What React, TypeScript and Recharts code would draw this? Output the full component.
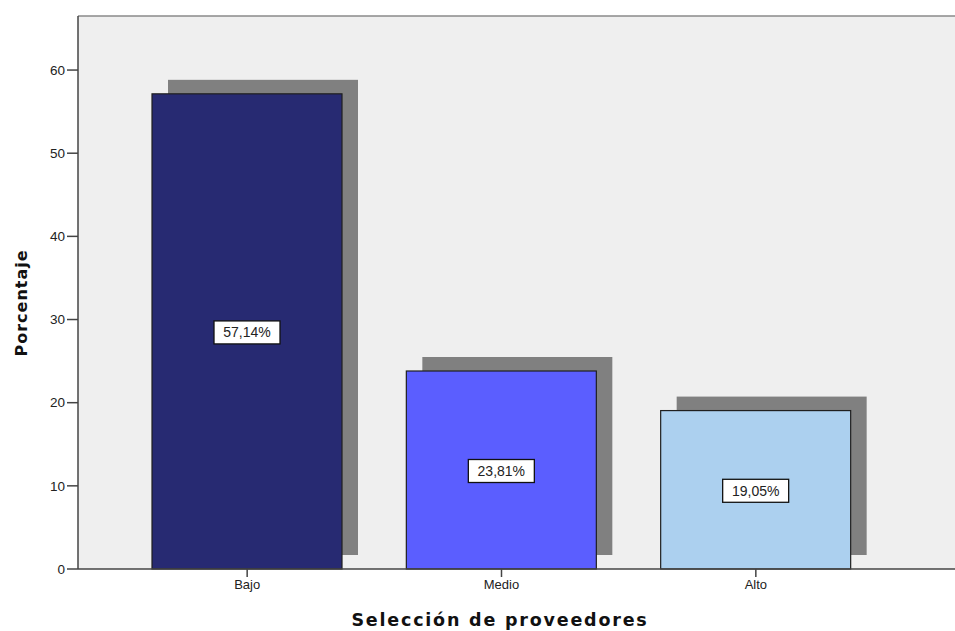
import React from 'react';
import {
  BarChart,
  Bar,
  XAxis,
  YAxis,
  CartesianGrid,
  Cell,
  LabelList,
  ReferenceLine,
} from 'recharts';

const categories = ['Bajo', 'Medio', 'Alto'];
const percentages = [57.14, 23.81, 19.05];
const barColors = ['#272a72', '#5b5eff', '#acd0ef'];
const yTicks = [0, 10, 20, 30, 40, 50, 60];

const data = categories.map((name, i) => ({ name, value: percentages[i] }));

const SHADOW_DX = 16;
const SHADOW_DY = 14;
const FONT = 'Arial, "Liberation Sans", sans-serif';
const TITLE_FONT = '"DejaVu Sans", Verdana, sans-serif';

// bar with a flat drop shadow behind it, offset up and to the right
const ShadowBar = (props: any) => {
  const { x, y, width, height, fill } = props;
  return (
    <g>
      <rect x={x + SHADOW_DX} y={y - SHADOW_DY} width={width} height={height} fill="#808080" />
      <rect x={x} y={y} width={width} height={height} fill={fill} stroke="#1f1f1f" strokeWidth={1.2} />
    </g>
  );
};

const formatPct = (v: number) => v.toFixed(2).replace('.', ',') + '%';

const BoxLabel = (props: any) => {
  const { x, y, width, height, value } = props;
  const cx = x + width / 2;
  const cy = y + height / 2 + 1;
  const w = 66;
  const h = 23;
  return (
    <g>
      <rect x={cx - w / 2} y={cy - h / 2} width={w} height={h} fill="#ffffff" stroke="#111" strokeWidth={1.3} />
      <text x={cx} y={cy + 5} textAnchor="middle" fontSize={14} fontFamily={FONT} fill="#222">
        {formatPct(value)}
      </text>
    </g>
  );
};

export default function App() {
  return (
    <div style={{ position: 'relative', width: 955, height: 631, background: '#fff' }}>
      <style>{'body{margin:0}'}</style>
      <BarChart
        width={955}
        height={631}
        data={data}
        margin={{ top: 16, right: 0, left: 0, bottom: 31 }}
        barCategoryGap={32}
      >
        <CartesianGrid fill="#efefef" horizontal={false} vertical={false} stroke="none" />
        <XAxis
          dataKey="name"
          height={31}
          padding={{ left: 42, right: 72 }}
          axisLine={{ stroke: '#444', strokeWidth: 1.5 }}
          tickLine={{ stroke: '#444', strokeWidth: 1.5 }}
          tickSize={8}
          tickMargin={3}
          tick={{ fill: '#222', fontSize: 13, fontFamily: FONT }}
        />
        <YAxis
          width={78}
          domain={[0, 66.5]}
          ticks={yTicks}
          axisLine={{ stroke: '#444', strokeWidth: 1.5 }}
          tickLine={{ stroke: '#444', strokeWidth: 1.5 }}
          tickSize={11}
          tickMargin={2}
          tick={{ fill: '#222', fontSize: 13.5, fontFamily: FONT }}
        />
        <ReferenceLine y={66.5} stroke="#8a8a8a" strokeWidth={1.5} />
        <Bar dataKey="value" shape={<ShadowBar />} isAnimationActive={false}>
          {data.map((d, i) => (
            <Cell key={d.name} fill={barColors[i]} />
          ))}
          <LabelList dataKey="value" content={<BoxLabel />} />
        </Bar>
      </BarChart>
      <div
        style={{
          position: 'absolute',
          left: 21,
          top: 303,
          transform: 'translate(-50%, -50%) rotate(-90deg)',
          fontFamily: TITLE_FONT,
          fontWeight: 'bold',
          fontSize: 16,
          letterSpacing: 1,
          color: '#111',
          whiteSpace: 'nowrap',
        }}
      >
        Porcentaje
      </div>
      <div
        style={{
          position: 'absolute',
          left: 500,
          top: 620,
          transform: 'translate(-50%, -50%)',
          fontFamily: TITLE_FONT,
          fontWeight: 'bold',
          fontSize: 17.5,
          letterSpacing: 1.8,
          color: '#111',
          whiteSpace: 'nowrap',
        }}
      >
        Selección de proveedores
      </div>
    </div>
  );
}
